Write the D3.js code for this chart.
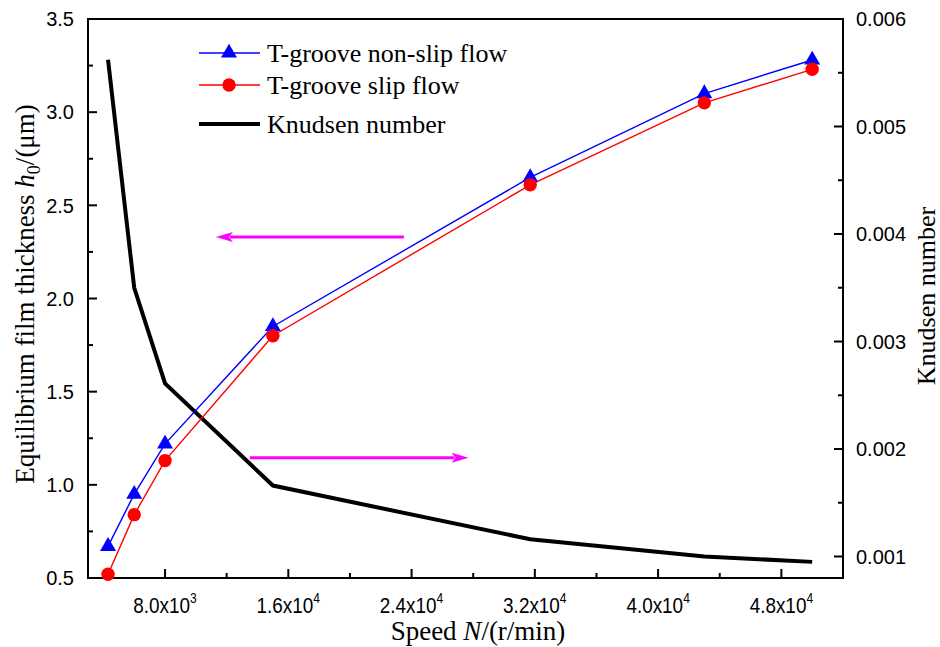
<!DOCTYPE html>
<html>
<head>
<meta charset="utf-8">
<script src="https://cdn.jsdelivr.net/npm/d3@7"></script>
<style>
  body { margin: 0; background: #fff; }
  svg { display: block; }
</style>
</head>
<body>
<div id="chart"></div>
<script>
// speed (r/min) and the three series
var speed = [4300, 6000, 8000, 15000, 31700, 43000, 50000];
var nonSlip = [0.67, 0.95, 1.22, 1.85, 2.65, 3.10, 3.28];
var slip = [0.52, 0.84, 1.13, 1.80, 2.61, 3.05, 3.23];
var knudsen = [0.00562, 0.00350, 0.00261, 0.00166, 0.00116, 0.00100, 0.00095];

var xTicks = [8000, 16000, 24000, 32000, 40000, 48000];
var leftTicks = [0.5, 1.0, 1.5, 2.0, 2.5, 3.0, 3.5];
var rightTicks = [0.001, 0.002, 0.003, 0.004, 0.005, 0.006];

// arrows: [x from, x to, y value on left axis]
var arrows = [
  [23500, 11300, 2.33],
  [13500, 27700, 1.145]
];

var width = 940, height = 647;
var margin = {top: 19, right: 97, bottom: 69, left: 88};

var svg = d3.select("#chart").append("svg")
  .attr("width", width)
  .attr("height", height)
  .style("font-family", "'Liberation Sans', Arial, sans-serif");

var x = d3.scaleLinear().domain([3000, 52000]).range([margin.left, width - margin.right]);
var yL = d3.scaleLinear().domain([0.5, 3.5]).range([height - margin.bottom, margin.top]);
var yR = d3.scaleLinear().domain([0.0008, 0.006]).range([height - margin.bottom, margin.top]);

var x0 = margin.left, x1 = width - margin.right, y0 = height - margin.bottom, y1 = margin.top;

// minor ticks
var xMinor = d3.range(4000, 52001, 8000);
var lMinor = d3.range(0.75, 3.5, 0.5);
var rMinor = d3.range(0.0015, 0.006, 0.001);

var ticks = svg.append("g").attr("stroke", "#000").attr("stroke-width", 2);
xTicks.forEach(function(t) {
  ticks.append("line").attr("x1", x(t)).attr("x2", x(t)).attr("y1", y0).attr("y2", y0 - 9);
});
xMinor.forEach(function(t) {
  ticks.append("line").attr("x1", x(t)).attr("x2", x(t)).attr("y1", y0).attr("y2", y0 - 5);
});
leftTicks.forEach(function(t) {
  ticks.append("line").attr("x1", x0).attr("x2", x0 + 9).attr("y1", yL(t)).attr("y2", yL(t));
});
lMinor.forEach(function(t) {
  ticks.append("line").attr("x1", x0).attr("x2", x0 + 5).attr("y1", yL(t)).attr("y2", yL(t));
});
rightTicks.forEach(function(t) {
  ticks.append("line").attr("x1", x1).attr("x2", x1 - 9).attr("y1", yR(t)).attr("y2", yR(t));
});
rMinor.forEach(function(t) {
  ticks.append("line").attr("x1", x1).attr("x2", x1 - 5).attr("y1", yR(t)).attr("y2", yR(t));
});

// frame
svg.append("rect")
  .attr("x", x0).attr("y", y1)
  .attr("width", x1 - x0).attr("height", y0 - y1)
  .attr("fill", "none").attr("stroke", "#000").attr("stroke-width", 2);

// tick labels
svg.append("g").selectAll("text").data(leftTicks).enter().append("text")
  .attr("x", x0 - 14).attr("y", function(d) { return yL(d); })
  .attr("dy", "0.36em").attr("text-anchor", "end")
  .attr("font-size", 20)
  .text(function(d) { return d3.format(".1f")(d); });

svg.append("g").selectAll("text").data(rightTicks).enter().append("text")
  .attr("x", x1 + 13).attr("y", function(d) { return yR(d); })
  .attr("dy", "0.36em").attr("text-anchor", "start")
  .attr("font-size", 20)
  .text(function(d) { return d3.format(".3f")(d); });

// x labels look condensed in the original, so squeeze them a bit
var xl = svg.append("g").selectAll("text").data(xTicks).enter().append("text")
  .attr("transform", function(d) { return "translate(" + x(d) + "," + (y0 + 35) + ") scale(0.86,1)"; })
  .attr("text-anchor", "middle")
  .attr("font-size", 22);
xl.append("tspan").text(function(d) {
  var e = Math.floor(Math.log10(d));
  return d3.format(".1f")(d / Math.pow(10, e)) + "x10";
});
xl.append("tspan").attr("dy", -10).attr("font-size", 14)
  .text(function(d) { return Math.floor(Math.log10(d)); });

// axis titles
var serif = "'Liberation Serif', 'Times New Roman', serif";
var lt = svg.append("text")
  .attr("transform", "translate(34,294) rotate(-90)")
  .attr("text-anchor", "middle").attr("font-family", serif).attr("font-size", 27);
lt.append("tspan").text("Equilibrium film thickness ");
lt.append("tspan").attr("font-style", "italic").text("h");
lt.append("tspan").attr("font-size", 18).attr("dy", 6).text("0");
lt.append("tspan").attr("dy", -6).text("/(μm)");

svg.append("text")
  .attr("transform", "translate(935,296) rotate(-90)")
  .attr("text-anchor", "middle").attr("font-family", serif).attr("font-size", 26)
  .text("Knudsen number");

var bt = svg.append("text")
  .attr("x", 478).attr("y", 640)
  .attr("text-anchor", "middle").attr("font-family", serif).attr("font-size", 27);
bt.append("tspan").text("Speed ");
bt.append("tspan").attr("font-style", "italic").text("N");
bt.append("tspan").text("/(r/min)");

// arrows
var magenta = "#ff00ff";
arrows.forEach(function(a) {
  var xs = x(a[0]), xe = x(a[1]), yy = yL(a[2]);
  var dir = xe > xs ? 1 : -1;
  svg.append("line")
    .attr("x1", xs).attr("x2", xe - dir * 14).attr("y1", yy).attr("y2", yy)
    .attr("stroke", magenta).attr("stroke-width", 3);
  svg.append("path")
    .attr("d", "M" + xe + "," + yy + "L" + (xe - dir * 17) + "," + (yy - 5) + "L" + (xe - dir * 13) + "," + yy + "L" + (xe - dir * 17) + "," + (yy + 5) + "Z")
    .attr("fill", magenta);
});

// series
var nsData = speed.map(function(s, i) { return [s, nonSlip[i]]; });
var slData = speed.map(function(s, i) { return [s, slip[i]]; });
var knData = speed.map(function(s, i) { return [s, knudsen[i]]; });

var lineL = d3.line().x(function(d) { return x(d[0]); }).y(function(d) { return yL(d[1]); });
var lineR = d3.line().x(function(d) { return x(d[0]); }).y(function(d) { return yR(d[1]); });

svg.append("path").datum(knData).attr("d", lineR)
  .attr("fill", "none").attr("stroke", "#000").attr("stroke-width", 4).attr("stroke-linejoin", "miter");

svg.append("path").datum(slData).attr("d", lineL)
  .attr("fill", "none").attr("stroke", "#ff0000").attr("stroke-width", 1.4);
svg.append("path").datum(nsData).attr("d", lineL)
  .attr("fill", "none").attr("stroke", "#0000ff").attr("stroke-width", 1.4);

var tri = d3.symbol().type(d3.symbolTriangle).size(110);
svg.append("g").selectAll("path").data(nsData).enter().append("path")
  .attr("d", tri)
  .attr("transform", function(d) { return "translate(" + x(d[0]) + "," + yL(d[1]) + ")"; })
  .attr("fill", "#0000ff");

svg.append("g").selectAll("circle").data(slData).enter().append("circle")
  .attr("cx", function(d) { return x(d[0]); })
  .attr("cy", function(d) { return yL(d[1]); })
  .attr("r", 6.7)
  .attr("fill", "#ff0000");

// legend
var legend = svg.append("g").attr("font-family", serif).attr("font-size", 26);
var items = [
  {label: "T-groove non-slip flow", color: "#0000ff", w: 1.4, mark: "tri", y: 53},
  {label: "T-groove slip flow", color: "#ff0000", w: 1.4, mark: "circ", y: 85},
  {label: "Knudsen number", color: "#000", w: 4, mark: null, y: 124}
];
items.forEach(function(it) {
  legend.append("line").attr("x1", 199).attr("x2", 260).attr("y1", it.y).attr("y2", it.y)
    .attr("stroke", it.color).attr("stroke-width", it.w);
  if (it.mark === "tri") {
    legend.append("path").attr("d", tri).attr("transform", "translate(229," + it.y + ")").attr("fill", it.color);
  } else if (it.mark === "circ") {
    legend.append("circle").attr("cx", 229).attr("cy", it.y).attr("r", 6.7).attr("fill", it.color);
  }
  legend.append("text").attr("x", 267).attr("y", it.y).attr("dy", "0.35em").text(it.label);
});
</script>
</body>
</html>
